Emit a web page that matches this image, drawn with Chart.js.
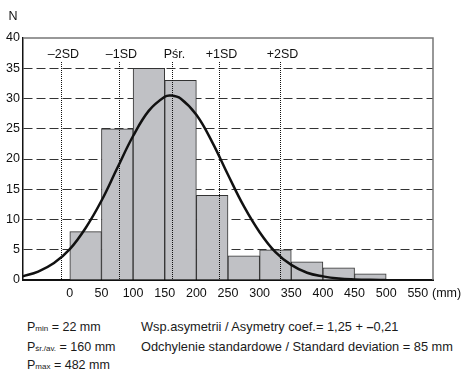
<!DOCTYPE html>
<html>
<head>
<meta charset="utf-8">
<script src="https://cdn.jsdelivr.net/npm/chart.js@4.4.1/dist/chart.umd.min.js"></script>
<style>
  body { margin:0; background:#fff; width:462px; height:375px; overflow:hidden; position:relative;
         font-family:"Liberation Sans", Arial, sans-serif; color:#1a1a1a; }
  #c { position:absolute; left:0; top:0; }
  .t { position:absolute; font-size:12.5px; white-space:nowrap; line-height:14px; }
  .t small { font-size:8px; }
  .w { font-size:12.8px; }
</style>
</head>
<body>
<canvas id="c" width="462" height="310"></canvas>
<div class="t" style="left:27px;top:320px">P<small>min</small> = 22 mm</div>
<div class="t" style="left:27px;top:340px">P<small>śr./av.</small> = 160 mm</div>
<div class="t" style="left:27px;top:358px">P<small>max</small> = 482 mm</div>
<div class="t w" style="left:141px;top:320px">Wsp.asymetrii / Asymetry coef.= 1,25 + <b>–</b>0,21</div>
<div class="t w" style="left:141px;top:340px">Odchylenie standardowe / Standard deviation = 85 mm</div>
<script>
// histogram: class centres (mm) and counts
const binCentres = [25, 75, 125, 175, 225, 275, 325, 375, 425, 475];
const counts     = [8, 25, 35, 33, 14, 4, 5, 3, 2, 1];

// fitted curve
const curveX = [-75, -50, -25, 0, 25, 50, 75, 100, 125, 150, 160, 175, 200, 225, 250, 275, 300, 325, 350, 375, 400, 425, 450, 475, 500];
const curveY = [0.6, 1.4, 2.8, 5.1, 8.6, 13.1, 18.5, 23.8, 28.0, 30.3, 30.5, 30.0, 27.3, 22.8, 17.4, 12.2, 7.9, 4.6, 2.5, 1.2, 0.6, 0.25, 0.1, 0.03, 0.01];

// SD markers
const sdLabels = ['–2SD', '–1SD', 'Pśr.', '+1SD', '+2SD'];
const sdValues = [-14, 78, 162, 235, 332];

const xTicks = [0, 50, 100, 150, 200, 250, 300, 350, 400, 450, 500, 550];
const yTicks = [0, 5, 10, 15, 20, 25, 30, 35, 40];

const FONT = '"Liberation Sans", Arial, sans-serif';

const extras = {
  id: 'extras',
  afterDatasetsDraw(chart) {
    const { ctx, chartArea: a, scales: { x, y } } = chart;
    ctx.save();
    // SD dotted lines + labels
    ctx.strokeStyle = '#111';
    ctx.lineWidth = 1;
    ctx.setLineDash([1, 1]);
    ctx.font = '12.5px ' + FONT;
    ctx.fillStyle = '#111';
    ctx.textAlign = 'center';
    ctx.textBaseline = 'middle';
    sdValues.forEach((v, i) => {
      const px = Math.round(x.getPixelForValue(v)) + 0.5;
      ctx.beginPath();
      ctx.moveTo(px, 62);
      ctx.lineTo(px, a.bottom);
      ctx.stroke();
      ctx.fillText(sdLabels[i], px + 2, 55);
    });
    ctx.setLineDash([]);
    // top & right frame
    ctx.strokeStyle = '#777';
    ctx.lineWidth = 1.5;
    ctx.beginPath();
    ctx.moveTo(a.left, a.top);
    ctx.lineTo(a.right, a.top);
    ctx.lineTo(a.right, a.bottom);
    ctx.stroke();
    // axis titles
    ctx.fillStyle = '#111';
    ctx.textAlign = 'center';
    ctx.fillText('N', 13, 17);
    ctx.textAlign = 'left';
    ctx.fillText('(mm)', 432, 294);
    ctx.restore();
  }
};

new Chart(document.getElementById('c'), {
  type: 'bar',
  data: {
    datasets: [
      {
        type: 'line',
        data: curveX.map((v, i) => ({ x: v, y: curveY[i] })),
        borderColor: '#111',
        borderWidth: 2.5,
        pointRadius: 0,
        tension: 0.4,
        fill: false,
        order: 0
      },
      {
        type: 'bar',
        data: binCentres.map((v, i) => ({ x: v, y: counts[i] })),
        backgroundColor: '#c0c1c5',
        borderColor: '#333',
        borderWidth: 1,
        barPercentage: 1,
        categoryPercentage: 1,
        order: 1
      }
    ]
  },
  options: {
    responsive: false,
    animation: false,
    events: [],
    layout: { padding: { top: 38, right: 29, left: 0, bottom: 0 } },
    plugins: { legend: { display: false }, tooltip: { enabled: false } },
    scales: {
      x: {
        type: 'linear',
        offset: false,
        min: -74,
        max: 574,
        afterBuildTicks: s => { s.ticks = xTicks.map(v => ({ value: v })); },
        afterFit: s => { s.height = 30; },
        ticks: { color: '#111', font: { size: 12.5, family: FONT }, padding: 6, maxRotation: 0, autoSkip: false },
        grid: { display: false, drawTicks: false },
        border: { display: true, color: '#111', width: 2 }
      },
      y: {
        min: 0,
        max: 40,
        afterBuildTicks: s => { s.ticks = yTicks.map(v => ({ value: v })); },
        afterFit: s => { s.width = 23; },
        ticks: { color: '#111', font: { size: 12.5, family: FONT }, padding: 3 },
        grid: {
          drawTicks: false,
          color: c => (c.tick.value === 0 || c.tick.value === 40) ? 'rgba(0,0,0,0)' : '#333',
          lineWidth: 1
        },
        border: { display: true, color: '#111', width: 1.5, dash: [9, 4] }
      }
    }
  },
  plugins: [extras]
});
</script>
</body>
</html>
